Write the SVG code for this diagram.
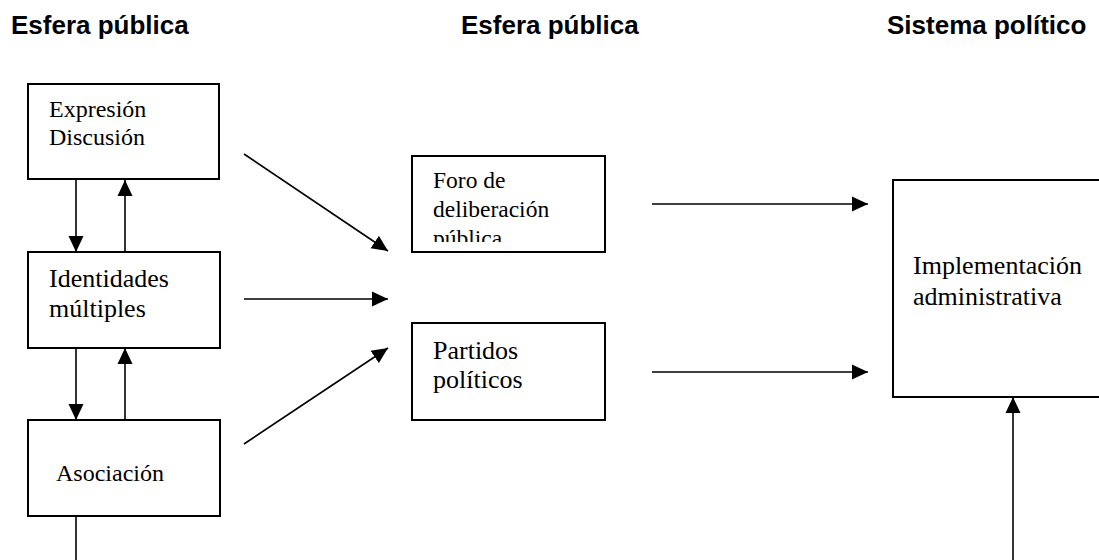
<svg xmlns="http://www.w3.org/2000/svg" width="1099" height="560" viewBox="0 0 1099 560">
<style>
.box{fill:#fff;stroke:#000;stroke-width:2}
.t{font-family:"Liberation Serif","Times New Roman",serif;fill:#000}
.h{font-family:"Liberation Sans",Arial,sans-serif;font-weight:bold;font-size:26px;fill:#000}
.c{stroke:#000;stroke-width:1.6;fill:none}
</style>
<defs>
<marker id="ah" viewBox="0 0 16 16" markerWidth="16" markerHeight="16" refX="16" refY="8" orient="auto" markerUnits="userSpaceOnUse">
<path d="M0,0.5 L16,8 L0,15.5 z" fill="#000"/>
</marker>
<clipPath id="foroclip"><rect x="412" y="156" width="193" height="86"/></clipPath>
</defs>
<g id="headings">
<text class="h" x="11" y="34">Esfera pública</text>
<text class="h" x="461" y="34">Esfera pública</text>
<text class="h" x="887" y="34">Sistema político</text>
</g>
<g id="connectors">
<line class="c" x1="76" y1="179" x2="76" y2="252" marker-end="url(#ah)"/>
<line class="c" x1="125" y1="252" x2="125" y2="180" marker-end="url(#ah)"/>
<line class="c" x1="76" y1="348" x2="76" y2="420" marker-end="url(#ah)"/>
<line class="c" x1="125" y1="420" x2="125" y2="348" marker-end="url(#ah)"/>
<line class="c" x1="76" y1="516" x2="76" y2="560"/>
<line class="c" x1="244" y1="154" x2="388" y2="251" marker-end="url(#ah)"/>
<line class="c" x1="244" y1="299" x2="388" y2="299" marker-end="url(#ah)"/>
<line class="c" x1="244" y1="444" x2="388" y2="348" marker-end="url(#ah)"/>
<line class="c" x1="652" y1="204" x2="868" y2="204" marker-end="url(#ah)"/>
<line class="c" x1="652" y1="372" x2="868" y2="372" marker-end="url(#ah)"/>
<line class="c" x1="1013" y1="560" x2="1013" y2="397" marker-end="url(#ah)"/>
</g>
<g id="expresion">
<rect class="box" x="28" y="84" width="191" height="95"/>
<text class="t" font-size="24"><tspan x="49" y="117">Expresión</tspan><tspan x="49" y="145">Discusión</tspan></text>
</g>
<g id="identidades">
<rect class="box" x="28" y="252" width="192" height="96"/>
<text class="t" font-size="26"><tspan x="49" y="287">Identidades</tspan><tspan x="49" y="317">múltiples</tspan></text>
</g>
<g id="asociacion">
<rect class="box" x="28" y="420" width="192" height="96"/>
<text class="t" font-size="24" x="56" y="481">Asociación</text>
</g>
<g id="foro">
<rect class="box" x="412" y="156" width="193" height="96"/>
<text class="t" font-size="23.5" clip-path="url(#foroclip)"><tspan x="433" y="188">Foro de</tspan><tspan x="433" y="217">deliberación</tspan><tspan x="433" y="246">pública</tspan></text>
</g>
<g id="partidos">
<rect class="box" x="412" y="323" width="193" height="97"/>
<text class="t" font-size="26"><tspan x="433" y="359">Partidos</tspan><tspan x="433" y="388">políticos</tspan></text>
</g>
<g id="implementacion">
<rect class="box" x="893" y="180" width="230" height="217"/>
<text class="t" font-size="26"><tspan x="913" y="274">Implementación</tspan><tspan x="913" y="305">administrativa</tspan></text>
</g>
</svg>
